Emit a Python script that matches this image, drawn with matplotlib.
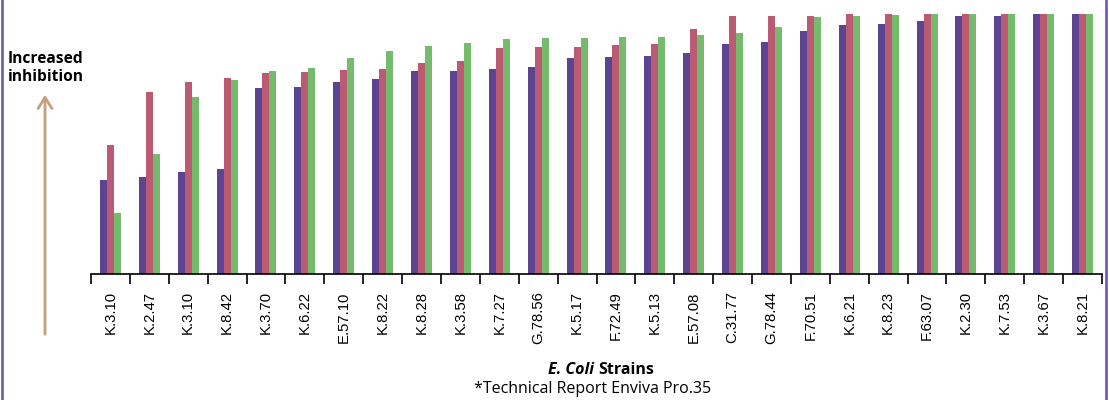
import matplotlib
matplotlib.use("Agg")
import numpy as np
import matplotlib.pyplot as plt
from matplotlib.lines import Line2D

plt.rcParams['font.family'] = ['Open Sans', 'DejaVu Sans']

# --- Data (relative inhibition) ---
strains = ["K.3.10", "K.2.47", "K.3.10", "K.8.42", "K.3.70", "K.6.22", "E.57.10", "K.8.22",
           "K.8.28", "K.3.58", "K.7.27", "G.78.56", "K.5.17", "F.72.49", "K.5.13", "E.57.08",
           "C.31.77", "G.78.44", "F.70.51", "K.6.21", "K.8.23", "F.63.07", "K.2.30", "K.7.53",
           "K.3.67", "K.8.21"]
series_purple = [94, 97, 102, 105, 186, 187, 192, 195, 203, 203, 205, 207, 216, 217, 218, 221,
                 230, 232, 243, 249, 250, 253, 258, 258, 260, 260]
series_red = [129, 182, 192, 196, 201, 202, 204, 205, 211, 213, 226, 227, 227, 229, 230, 245,
              258, 258, 258, 260, 260, 260, 260, 260, 260, 260]
series_green = [61, 120, 177, 194, 203, 206, 216, 223, 228, 231, 235, 236, 236, 237, 237, 239,
                241, 247, 257, 258, 259, 260, 260, 260, 260, 260]

colors = ["#5D4490", "#BA5A73", "#74BB6E"]

fig = plt.figure(figsize=(11.09, 4.0), dpi=100)
ax = fig.add_axes([91 / 1109, 1 - 274 / 400, 1011 / 1109, 260 / 400])

x = np.arange(len(strains))
w = 0.18
ax.bar(x - w, series_purple, w, color=colors[0])
ax.bar(x, series_red, w, color=colors[1])
ax.bar(x + w, series_green, w, color=colors[2])

ax.set_xlim(-0.5, len(strains) - 0.5)
ax.set_ylim(0, 260)
for s in ["left", "right", "top"]:
    ax.spines[s].set_visible(False)
ax.spines["bottom"].set_color("black")
ax.spines["bottom"].set_linewidth(1.2)
ax.set_yticks([])

ax.set_xticks(x)
ax.set_xticklabels(strains, rotation=90, fontsize=10.7, family="Liberation Sans")
ax.tick_params(axis="x", which="major", length=0, pad=12.5)
ax.set_xticks(np.arange(-0.5, len(strains)), minor=True)
ax.tick_params(axis="x", which="minor", length=7, width=1.2, color="black", direction="out")

# axis title and note
fig.text(0.536, 1 - 370 / 400, "E. Coli", fontsize=11.5, fontweight="bold", fontstyle="italic",
         ha="right", va="center")
fig.text(0.539, 1 - 370 / 400, "Strains", fontsize=11.5, fontweight="bold", ha="left", va="center")
fig.text(593 / 1109, 1 - 389 / 400, "*Technical Report Enviva Pro.35", fontsize=11.5,
         ha="center", va="center")

# y-direction cue
fig.text(8 / 1109, 1 - 68 / 400, "Increased\ninhibition", fontsize=11.2, fontweight="bold",
         ha="left", va="center", linespacing=1.2)
ax.annotate("", xy=(45 / 1109, 1 - 92 / 400), xytext=(45 / 1109, 1 - 337 / 400),
            xycoords="figure fraction", textcoords="figure fraction",
            arrowprops=dict(arrowstyle="->,head_length=0.8,head_width=0.5", color="#C4A07E", lw=2))

# purple frame edges
fig.add_artist(Line2D([1.5 / 1109, 1.5 / 1109], [0, 1], color="#7A5FB0", lw=2))
fig.add_artist(Line2D([1105.5 / 1109, 1105.5 / 1109], [0, 1], color="#7A5FB0", lw=2))

fig.savefig("out.png", dpi=100)
